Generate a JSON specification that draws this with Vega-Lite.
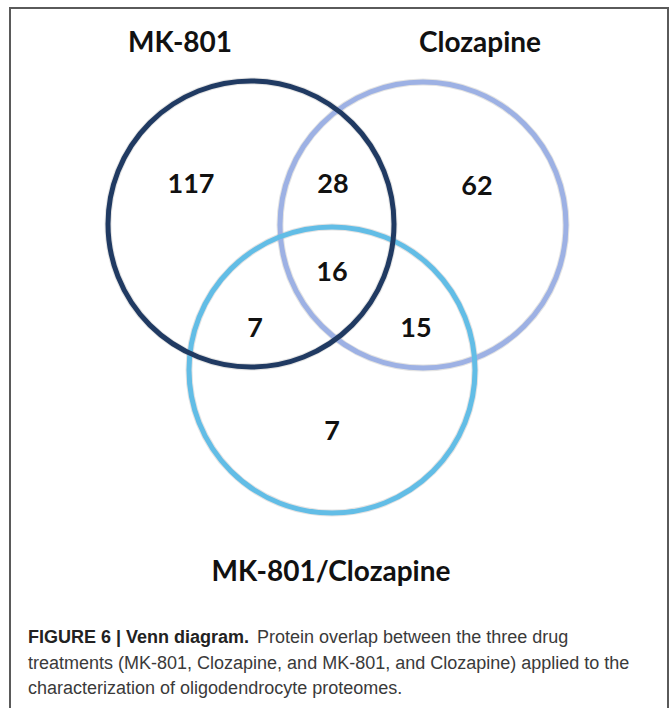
{
  "$schema": "https://vega.github.io/schema/vega-lite/v6.json",
  "width": 670,
  "height": 708,
  "padding": 0,
  "autosize": {"type": "none"},
  "background": "white",
  "config": {"view": {"stroke": null}},
  "datasets": {
    "frame": [{"x": 10, "x2": 668, "y": 8, "y2": 720}],
    "circles": [
      {"set": "Clozapine", "cx": 423, "cy": 225},
      {"set": "MK-801/Clozapine", "cx": 332, "cy": 370},
      {"set": "MK-801", "cx": 251, "cy": 224}
    ],
    "titles": [
      {"label": "MK-801", "x": 180, "y": 44},
      {"label": "Clozapine", "x": 480, "y": 44},
      {"label": "MK-801/Clozapine", "x": 331, "y": 573}
    ],
    "counts": [
      {"label": "117", "x": 191, "y": 185},
      {"label": "28", "x": 333, "y": 185},
      {"label": "62", "x": 477, "y": 187},
      {"label": "16", "x": 332, "y": 273},
      {"label": "7", "x": 255, "y": 329},
      {"label": "15", "x": 416, "y": 329},
      {"label": "7", "x": 332, "y": 432}
    ],
    "captionBold": [
      {"label": "FIGURE 6 | Venn diagram.", "x": 28, "y": 638}
    ],
    "captionRegular": [
      {"label": "Protein overlap between the three drug", "x": 257, "y": 638},
      {"label": "treatments (MK-801, Clozapine, and MK-801, and Clozapine) applied to the", "x": 28, "y": 664},
      {"label": "characterization of oligodendrocyte proteomes.", "x": 28, "y": 689}
    ]
  },
  "layer": [
    {
      "data": {"name": "frame"},
      "mark": {"type": "rect", "fill": "white", "stroke": "#5a5a5a", "strokeWidth": 2},
      "encoding": {
        "x": {"field": "x", "type": "quantitative", "scale": {"domain": [0, 670], "nice": false, "zero": false}, "axis": null},
        "x2": {"field": "x2"},
        "y": {"field": "y", "type": "quantitative", "scale": {"domain": [0, 708], "nice": false, "zero": false, "reverse": true}, "axis": null},
        "y2": {"field": "y2"}
      }
    },
    {
      "data": {"name": "circles"},
      "mark": {"type": "point", "shape": "circle", "filled": false, "size": 81796, "strokeWidth": 7, "stroke": "#b0b0b0", "opacity": 0.35, "dx": 2, "dy": 3},
      "encoding": {
        "x": {"field": "cx", "type": "quantitative"},
        "y": {"field": "cy", "type": "quantitative"}
      }
    },
    {
      "data": {"name": "circles"},
      "mark": {"type": "point", "shape": "circle", "filled": false, "size": 81796, "strokeWidth": 5, "opacity": 1},
      "encoding": {
        "x": {"field": "cx", "type": "quantitative"},
        "y": {"field": "cy", "type": "quantitative"},
        "stroke": {
          "field": "set",
          "type": "nominal",
          "scale": {"domain": ["MK-801", "Clozapine", "MK-801/Clozapine"], "range": ["#203a62", "#9db1e4", "#62bde6"]},
          "legend": null
        }
      }
    },
    {
      "data": {"name": "titles"},
      "mark": {"type": "text", "font": "Lato", "fontWeight": "bold", "fontSize": 28, "align": "center", "baseline": "middle", "color": "#111111"},
      "encoding": {
        "x": {"field": "x", "type": "quantitative"},
        "y": {"field": "y", "type": "quantitative"},
        "text": {"field": "label"}
      }
    },
    {
      "data": {"name": "counts"},
      "mark": {"type": "text", "font": "Lato", "fontWeight": "bold", "fontSize": 27, "align": "center", "baseline": "middle", "color": "#111111"},
      "encoding": {
        "x": {"field": "x", "type": "quantitative"},
        "y": {"field": "y", "type": "quantitative"},
        "text": {"field": "label"}
      }
    },
    {
      "data": {"name": "captionBold"},
      "mark": {"type": "text", "font": "Liberation Sans", "fontWeight": "bold", "fontSize": 18, "align": "left", "baseline": "middle", "color": "#222222"},
      "encoding": {
        "x": {"field": "x", "type": "quantitative"},
        "y": {"field": "y", "type": "quantitative"},
        "text": {"field": "label"}
      }
    },
    {
      "data": {"name": "captionRegular"},
      "mark": {"type": "text", "font": "Liberation Sans", "fontSize": 18, "align": "left", "baseline": "middle", "color": "#3a3a3a"},
      "encoding": {
        "x": {"field": "x", "type": "quantitative"},
        "y": {"field": "y", "type": "quantitative"},
        "text": {"field": "label"}
      }
    }
  ]
}
